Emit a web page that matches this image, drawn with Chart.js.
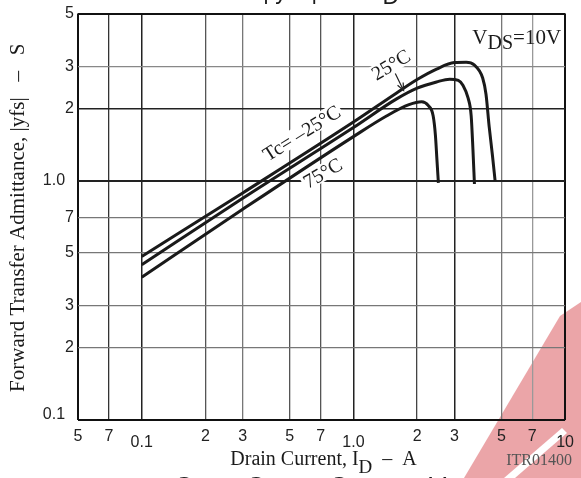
<!DOCTYPE html>
<html>
<head>
<meta charset="utf-8">
<title>|yfs| - ID</title>
<script src="https://cdn.jsdelivr.net/npm/chart.js@4.4.1/dist/chart.umd.min.js"></script>
<style>
  html, body { margin: 0; padding: 0; background: #fff; }
  canvas { display: block; }
</style>
</head>
<body>
<canvas id="yfsChart" width="581" height="478"></canvas>
<script>
// ticks
const xTicks = [0.05, 0.07, 0.1, 0.2, 0.3, 0.5, 0.7, 1, 2, 3, 5, 7, 10];
const xLabels = ['5', '7', '0.1', '2', '3', '5', '7', '1.0', '2', '3', '5', '7', '10'];
const yTicks = [0.1, 0.2, 0.3, 0.5, 0.7, 1, 2, 3, 5];
const yLabels = ['0.1', '2', '3', '5', '7', '1.0', '2', '3', '5'];

// Tc = -25°C
const idM25  = [0.1, 0.3, 1.0, 1.6, 2.0, 2.47, 3.0, 3.41, 3.72, 4.08, 4.23, 4.38, 4.54, 4.67];
const yfsM25 = [0.483, 0.89, 1.76, 2.33, 2.65, 2.93, 3.12, 3.13, 3.05, 2.69, 2.30, 1.68, 1.27, 1.0];
// Tc = 25°C
const id25  = [0.1, 0.3, 1.0, 1.6, 2.0, 2.47, 2.85, 3.13, 3.29, 3.48, 3.60, 3.67, 3.73];
const yfs25 = [0.446, 0.845, 1.67, 2.20, 2.44, 2.59, 2.66, 2.63, 2.51, 2.22, 1.87, 1.35, 0.97];
// Tc = 75°C
const id75  = [0.1, 0.3, 1.0, 1.44, 1.83, 2.10, 2.26, 2.38, 2.44, 2.48, 2.52];
const yfs75 = [0.395, 0.76, 1.53, 1.87, 2.08, 2.14, 2.06, 1.87, 1.55, 1.23, 0.98];

const toPoints = (xs, ys) => xs.map((v, i) => ({ x: v, y: ys[i] }));

const SANS = "'Liberation Sans', Arial, Helvetica, sans-serif";
const SERIF = "'Liberation Serif', 'Times New Roman', Times, serif";

// grid styling per tick index
const xGridColor = ['#111', '#333', '#222', '#555', '#777', '#555', '#555', '#222', '#444', '#222', '#777', '#999', '#111'];
const xGridWidth = [2, 1.3, 1.5, 1.3, 1.3, 1.3, 1.3, 1.5, 1.3, 1.5, 1.3, 1.3, 2];
const yGridColor = ['#111', '#777', '#777', '#777', '#777', '#222', '#222', '#888', '#111'];
const yGridWidth = [2, 1.3, 1.3, 1.3, 1.3, 2, 1.4, 1.3, 2];

// draws a run of text pieces, each with its own font and vertical shift
function drawRuns(ctx, runs, x, y, align) {
  let total = 0;
  runs.forEach(r => { ctx.font = r.font; r.w = ctx.measureText(r.t).width; total += r.w; });
  let cx = align === 'center' ? x - total / 2 : (align === 'right' ? x - total : x);
  runs.forEach(r => {
    ctx.font = r.font;
    ctx.fillText(r.t, cx, y + (r.dy || 0));
    cx += r.w;
  });
}

function rotatedLabel(ctx, text, px, py, angle) {
  ctx.save();
  ctx.translate(px, py);
  ctx.rotate(angle);
  ctx.font = '20px ' + SERIF;
  const w = ctx.measureText(text).width;
  ctx.fillStyle = '#fff';
  ctx.fillRect(-w / 2 - 2, -9, w + 4, 17);
  ctx.fillStyle = '#1a1a1a';
  ctx.textAlign = 'center';
  ctx.textBaseline = 'middle';
  ctx.fillText(text, 0, 1);
  ctx.restore();
}

const decorPlugin = {
  id: 'decor',
  beforeDraw(chart) {
    const ctx = chart.ctx;
    ctx.save();
    ctx.fillStyle = '#fff';
    ctx.fillRect(0, 0, chart.width, chart.height);
    // watermark in the corner
    ctx.fillStyle = '#eba5a8';
    ctx.beginPath();
    ctx.moveTo(560, 316);
    ctx.lineTo(581, 302);
    ctx.lineTo(581, 478);
    ctx.lineTo(464, 478);
    ctx.closePath();
    ctx.fill();
    ctx.fillStyle = '#fff';
    ctx.beginPath();
    ctx.moveTo(504, 478);
    ctx.lineTo(515, 478);
    ctx.lineTo(567, 433);
    ctx.lineTo(562, 428);
    ctx.closePath();
    ctx.fill();
    ctx.restore();
  },
  afterDraw(chart) {
    const { ctx, chartArea: ca, scales } = chart;
    const sx = scales.x, sy = scales.y;
    ctx.save();
    ctx.fillStyle = '#1a1a1a';
    ctx.textBaseline = 'alphabetic';

    // curve labels
    rotatedLabel(ctx, 'Tc= \u201325\u00B0C', sx.getPixelForValue(0.57), sy.getPixelForValue(1.58), -32 * Math.PI / 180);
    rotatedLabel(ctx, '75\u00B0C', sx.getPixelForValue(0.716), sy.getPixelForValue(1.076), -30 * Math.PI / 180);
    rotatedLabel(ctx, '25\u00B0C', sx.getPixelForValue(1.505), sy.getPixelForValue(3.05), -31 * Math.PI / 180);

    // arrow from 25°C label to its curve
    const ax1 = sx.getPixelForValue(1.577), ay1 = sy.getPixelForValue(2.81);
    const ax2 = sx.getPixelForValue(1.726), ay2 = sy.getPixelForValue(2.386);
    ctx.strokeStyle = '#222';
    ctx.lineWidth = 1.2;
    ctx.beginPath();
    ctx.moveTo(ax1, ay1);
    ctx.lineTo(ax2, ay2);
    const ang = Math.atan2(ay2 - ay1, ax2 - ax1);
    ctx.moveTo(ax2 - 8 * Math.cos(ang - 0.4), ay2 - 8 * Math.sin(ang - 0.4));
    ctx.lineTo(ax2, ay2);
    ctx.lineTo(ax2 - 8 * Math.cos(ang + 0.4), ay2 - 8 * Math.sin(ang + 0.4));
    ctx.stroke();

    // VDS condition
    ctx.fillStyle = '#1a1a1a';
    drawRuns(ctx, [
      { t: 'V', font: '21px ' + SERIF },
      { t: 'DS', font: '20px ' + SERIF, dy: 5 },
      { t: '=10V', font: '21px ' + SERIF }
    ], ca.right - 4, ca.top + 30, 'right');

    // axis titles
    drawRuns(ctx, [
      { t: 'Drain Current, I', font: '20px ' + SERIF },
      { t: 'D', font: '19px ' + SERIF, dy: 8 },
      { t: '  \u2013  A', font: '20px ' + SERIF }
    ], (ca.left + ca.right) / 2 + 2, 465, 'center');

    ctx.save();
    ctx.translate(24, (ca.top + ca.bottom) / 2 + 1);
    ctx.rotate(-Math.PI / 2);
    drawRuns(ctx, [{ t: 'Forward Transfer Admittance, |yfs|   \u2013   S', font: '21px ' + SERIF }], 0, 0, 'center');
    ctx.restore();

    // figure code
    ctx.fillStyle = '#555';
    drawRuns(ctx, [{ t: 'ITR01400', font: '16px ' + SERIF }], 572, 465, 'right');

    // neighbouring titles, cut by the page edge
    ctx.fillStyle = '#1a1a1a';
    drawRuns(ctx, [{ t: '| yfs |', font: '23px ' + SANS }], 263, -1, 'left');
    drawRuns(ctx, [{ t: '\u2013', font: '23px ' + SANS }], 349, -1, 'center');
    drawRuns(ctx, [
      { t: 'I', font: '23px ' + SANS },
      { t: 'D', font: '23px ' + SANS, dy: 5 }
    ], 376, -1, 'left');
    drawRuns(ctx, [{ t: 'C', font: '26px ' + SANS }, { t: 'iss,', font: '18px ' + SANS, dy: 6 }], 174, 495, 'left');
    drawRuns(ctx, [{ t: 'C', font: '26px ' + SANS }, { t: 'oss,', font: '18px ' + SANS, dy: 6 }], 246, 495, 'left');
    drawRuns(ctx, [{ t: 'C', font: '26px ' + SANS }, { t: 'rss', font: '18px ' + SANS, dy: 6 }, { t: '  \u2013 ', font: '26px ' + SANS }], 329, 495, 'left');
    drawRuns(ctx, [{ t: 'V', font: '26px ' + SANS }, { t: 'DS', font: '18px ' + SANS, dy: 6 }], 429, 495, 'left');
    ctx.restore();
  }
};

const curveStyle = {
  borderColor: '#1a1a1a',
  borderWidth: 3,
  pointRadius: 0,
  fill: false,
  cubicInterpolationMode: 'monotone'
};

const ctx = document.getElementById('yfsChart');
const yfsChart = new Chart(ctx, {
  type: 'line',
  data: {
    datasets: [
      { label: 'Tc=-25°C', data: toPoints(idM25, yfsM25), ...curveStyle },
      { label: 'Tc=25°C', data: toPoints(id25, yfs25), ...curveStyle },
      { label: 'Tc=75°C', data: toPoints(id75, yfs75), ...curveStyle }
    ]
  },
  options: {
    responsive: false,
    animation: false,
    layout: { padding: { top: 12, right: 11, left: 0, bottom: 0 } },
    plugins: { legend: { display: false }, tooltip: { enabled: false } },
    scales: {
      x: {
        type: 'logarithmic',
        min: 0.05,
        max: 10,
        afterBuildTicks: (scale) => { scale.ticks = xTicks.map(v => ({ value: v })); },
        afterFit: (scale) => { scale.height = 58; },
        border: { display: false },
        grid: {
          drawTicks: false,
          color: (c) => xGridColor[c.index],
          lineWidth: (c) => xGridWidth[c.index]
        },
        ticks: {
          autoSkip: false,
          maxRotation: 0,
          padding: 7,
          color: '#222',
          font: (c) => ({
            family: SANS,
            size: 16,
            lineHeight: (xLabels[c.index] || '').indexOf('.') >= 0 || xLabels[c.index] === '10' ? 1.9 : 1.2
          }),
          callback: (v, i) => xLabels[i]
        }
      },
      y: {
        type: 'logarithmic',
        min: 0.1,
        max: 5,
        afterBuildTicks: (scale) => { scale.ticks = yTicks.map(v => ({ value: v })); },
        afterFit: (scale) => { scale.width = 78; },
        border: { display: false },
        grid: {
          drawTicks: false,
          color: (c) => yGridColor[c.index],
          lineWidth: (c) => yGridWidth[c.index]
        },
        ticks: {
          autoSkip: false,
          padding: 4,
          color: '#222',
          font: (c) => ({ family: SANS, size: 16, lineHeight: c.index === 0 ? 0.625 : 1.2 }),
          callback: (v, i) => {
            const s = yLabels[i];
            if (i === 0) return [s + '  ', ''];
            return s.indexOf('.') >= 0 ? s + '  ' : s;
          }
        }
      }
    }
  },
  plugins: [decorPlugin]
});
</script>
</body>
</html>
